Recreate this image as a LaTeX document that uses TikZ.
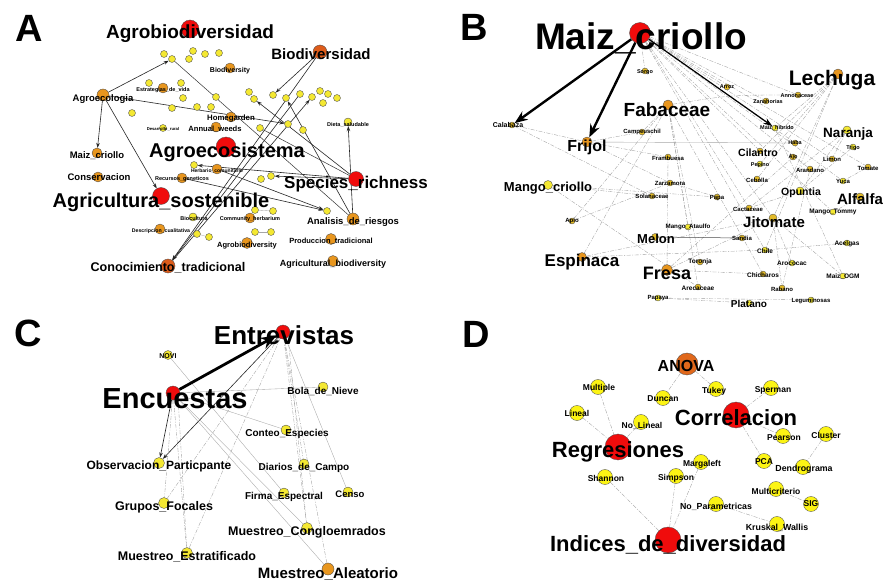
\documentclass[tikz,border=0pt]{standalone}
\usepackage{fontspec}
\setmainfont{Liberation Sans}
\usetikzlibrary{arrows.meta}
\pgfdeclarelayer{edges}
\pgfsetlayers{edges,main}
\definecolor{cR}{RGB}{240,12,12}
\definecolor{cO}{RGB}{232,150,30}
\definecolor{cDO}{RGB}{222,92,26}
\definecolor{cY}{RGB}{244,232,50}
\definecolor{cYD}{RGB}{252,244,20}
\definecolor{cG}{RGB}{226,186,40}
\begin{document}
\begin{tikzpicture}[x=1pt,y=-1pt,
 lab/.style={font=\fontsize{#1}{#1}\selectfont\bfseries, inner sep=0pt, anchor=center},
 dot/.style={circle, draw=black!70, line width=0.35pt, inner sep=0pt, minimum size=#1},
 rd/.style={dot=#1, fill=cR},
 od/.style={dot=#1, fill=cO},
 dod/.style={dot=#1, fill=cDO},
 yd/.style={dot=#1, fill=cY},
 ydd/.style={dot=#1, fill=cYD},
 gd/.style={dot=#1, fill=cG},
 arr/.style={-{Stealth[length=5pt,width=3.5pt]}, line width=0.6pt, black!85},
 ln/.style={line width=0.5pt, black!80},
 bigarr/.style={-{Stealth[length=13pt,width=10pt]}, line width=2.4pt, black},
 dsh/.style={gray!75, line width=0.35pt, dash pattern=on 4pt off 1.5pt on 1pt off 1.5pt},
 thin/.style={gray!70, line width=0.35pt},
 panel/.style={font=\fontsize{38}{38}\selectfont\bfseries, inner sep=0pt}
]
\useasboundingbox (0,0) rectangle (886,580);
\begin{pgfonlayer}{edges}
\fill[white] (0,0) rectangle (886,580);
\end{pgfonlayer}

% ---------- panel letters ----------
\node[panel] (pA) at (29,28) {A};
\node[panel] (pB) at (474,27) {B};
\node[panel] (pC) at (28,333) {C};
\node[panel] (pD) at (476,334) {D};

% ================= PANEL A =================
\node[rd=18] (agrobio) at (190,29) {};
\node[dod=14] (biodiv) at (320,52) {};
\node[yd=7] (s1) at (164,54) {};
\node[yd=7] (s2) at (172,59) {};
\node[yd=7] (s3) at (193,51) {};
\node[yd=7] (s4) at (205,54) {};
\node[yd=7] (s5) at (219,53) {};
\node[yd=7] (s6) at (189,59) {};
\node[od=10] (biodvy) at (230,68) {};
\node[od=10] (estr) at (163,88) {};
\node[yd=7] (s7) at (149,83) {};
\node[yd=7] (s8) at (181,83) {};
\node[od=12] (agroeco) at (103,95) {};
\node[yd=7] (s9) at (183,98) {};
\node[yd=7] (s10) at (216,97) {};
\node[yd=7] (s11) at (172,108) {};
\node[yd=7] (s12) at (197,107) {};
\node[yd=7] (s13) at (211,107) {};
\node[yd=7] (s14) at (132,113) {};
\node[yd=7] (s15) at (163,128) {};
\node[od=10] (homeg) at (231,117) {};
\node[od=10] (annual) at (216,127) {};
\node[yd=7] (k1) at (249,92) {};
\node[yd=7] (k2) at (254,99) {};
\node[yd=7] (k3) at (273,95) {};
\node[yd=7] (k4) at (286,98) {};
\node[yd=7] (k5) at (300,94) {};
\node[yd=7] (k6) at (312,97) {};
\node[yd=7] (k7) at (320,91) {};
\node[yd=7] (k8) at (328,94) {};
\node[yd=7] (k9) at (323,103) {};
\node[yd=7] (k10) at (337,98) {};
\node[yd=7] (t1) at (260,128) {};
\node[yd=7] (t2) at (288,124) {};
\node[yd=7] (t3) at (303,130) {};
\node[yd=8] (dieta) at (348,122) {};
\node[od=10] (maizc) at (97,153) {};
\node[od=10] (conserv) at (98,177) {};
\node[rd=20] (agroecosis) at (226,147) {};
\node[yd=7] (herb1) at (194,165) {};
\node[od=10] (herb2) at (217,169) {};
\node[od=10] (recursos) at (182,178) {};
\node[yd=7] (s16) at (261,179) {};
\node[yd=7] (s17) at (271,176) {};
\node[rd=15] (species) at (356,179) {};
\node[rd=17] (agrisost) at (161,196) {};
\node[yd=7] (s18) at (255,210) {};
\node[yd=7] (s19) at (273,211) {};
\node[yd=7] (s20) at (327,211) {};
\node[od=12] (analisis) at (353,219) {};
\node[yd=8] (biocult) at (193,217) {};
\node[od=10] (commun) at (250,218) {};
\node[od=10] (descr) at (160,229) {};
\node[yd=7] (s21) at (197,234) {};
\node[yd=7] (s22) at (209,237) {};
\node[yd=7] (s23) at (255,232) {};
\node[yd=7] (s24) at (271,232) {};
\node[od=11] (agrobioy) at (247,243) {};
\node[od=11] (prod) at (331,239) {};
\node[od=11] (agricult) at (333,261) {};
\node[dod=14] (conoc) at (168,266) {};

\begin{pgfonlayer}{edges}
\draw[arr] (agroeco) -- (s2);
\draw[arr] (agroeco) -- (t2);
\draw[arr] (agroeco) -- (maizc);
\draw[arr] (agroeco) -- (agrisost);
\draw[arr] (biodiv) -- (k3);
\draw[arr] (biodiv) -- (conoc);
\draw[arr] (k5) -- (conoc);
\draw[ln] (s2) -- (analisis);
\draw[ln] (t1) -- (species);
\draw[arr] (species) -- (k2);
\draw[arr] (analisis) -- (k4);
\draw[arr] (species) -- (herb1);
\draw[arr] (species) -- (s17);
\draw[arr] (herb2) -- (s20);
\draw[arr] (recursos) -- (s20);
\draw[arr] (analisis) -- (dieta);
\draw[arr] (conoc) -- (k6);
\draw[thin] (s18) -- (s19);
\draw[thin] (s23) -- (s24);
\draw[thin] (s21) -- (s22);
\end{pgfonlayer}

\node[lab=19] (tagrobio) at (190,34) {Agrobiodiversidad};
\node[lab=15] (tbiodiv) at (321,54) {Biodiversidad};
\node[lab=7] (tbiodvy) at (230,71) {Biodiversity};
\node[lab=5.5] (testr) at (163,90) {Estrategias\_de\_vida};
\node[lab=9.5] (tagroeco) at (103,99) {Agroecologia};
\node[lab=4.2] (ts15) at (163,129) {Desarrollo\_rural};
\node[lab=7.8] (thomeg) at (231,119) {Homegarden};
\node[lab=7.6] (tannual) at (215,129) {Annual\_weeds};
\node[lab=5.5] (tdieta) at (348,125) {Dieta\_saludable};
\node[lab=9.5] (tmaizc) at (97,156) {Maiz\_criollo};
\node[lab=9.5] (tconserv) at (99,177) {Conservacion};
\node[lab=20] (tagroecosis) at (227,152) {Agroecosistema};
\node[lab=5] (therb) at (217,171) {Herbario\_comunitario};
\node[lab=5.5] (trecursos) at (182,179) {Recursos\_geneticos};
\node[lab=17] (tspecies) at (356,184) {Species\_richness};
\node[lab=20] (tagrisost) at (161,202) {Agricultura\_sostenible};
\node[lab=5.5] (tbiocult) at (194,219) {Biocultura};
\node[lab=5.5] (tcommun) at (250,219) {Community\_herbarium};
\node[lab=5.2] (tdescr) at (161,231) {Descripcion\_cualitativa};
\node[lab=9.5] (tanalisis) at (353,222) {Analisis\_de\_riesgos};
\node[lab=7.5] (tagrobioy) at (247,246) {Agrobiodiversity};
\node[lab=7.5] (tprod) at (331,241) {Produccion\_tradicional};
\node[lab=9] (tagricult) at (333,264) {Agricultural\_biodiversity};
\node[lab=12.6] (tconoc) at (168,268) {Conocimiento\_tradicional};

% ================= PANEL B =================
\node[rd=21] (maiz) at (640,33) {};
\node[gd=6] (calabaza) at (512,125) {};
\node[od=10] (frijol) at (587,142) {};
\node[od=10] (fabaceae) at (668,105) {};
\node[od=10] (lechuga) at (838,74) {};
\node[gd=6] (sorgo) at (645,71) {};
\node[gd=6] (arroz) at (727,87) {};
\node[gd=6] (annon) at (798,95) {};
\node[gd=6] (zanah) at (766,101) {};
\node[gd=6] (campe) at (642,132) {};
\node[yd=6] (mhib) at (775,128) {};
\node[yd=8] (naranja) at (847,130) {};
\node[gd=6] (haba) at (795,143) {};
\node[yd=6] (trigo) at (853,147) {};
\node[gd=6] (cilantro) at (760,151) {};
\node[gd=6] (ajo) at (793,157) {};
\node[gd=6] (limon) at (832,159) {};
\node[gd=6] (tomate) at (868,167) {};
\node[gd=6] (framb) at (668,157) {};
\node[yd=6] (pepino) at (760,164) {};
\node[gd=6] (arand) at (810,169) {};
\node[gd=6] (cebolla) at (757,179) {};
\node[yd=6] (yuca) at (843,181) {};
\node[yd=9] (mcriollo) at (548,185) {};
\node[gd=6] (zarz) at (670,183) {};
\node[gd=6] (solan) at (652,196) {};
\node[gd=6] (papa) at (717,197) {};
\node[yd=8] (opuntia) at (800,191) {};
\node[gd=8] (alfalfa) at (860,197) {};
\node[gd=6] (cact) at (749,208) {};
\node[gd=8] (jitomate) at (773,218) {};
\node[yd=6] (mtommy) at (833,212) {};
\node[gd=6] (apio) at (572,221) {};
\node[yd=6] (mataulfo) at (688,227) {};
\node[gd=7] (melon) at (655,237) {};
\node[gd=6] (sandia) at (742,238) {};
\node[yd=6] (acelgas) at (847,243) {};
\node[yd=6] (chile) at (765,250) {};
\node[od=9] (espinaca) at (582,257) {};
\node[gd=6] (toronja) at (700,262) {};
\node[yd=6] (aracac) at (792,263) {};
\node[od=11] (fresa) at (667,270) {};
\node[gd=6] (chich) at (763,274) {};
\node[yd=6] (mogm) at (843,276) {};
\node[gd=6] (arecac) at (698,287) {};
\node[gd=6] (rabano) at (782,288) {};
\node[yd=6] (papaya) at (658,298) {};
\node[yd=6] (platano) at (749,303) {};
\node[yd=6] (legum) at (811,300) {};

\begin{pgfonlayer}{edges}
\foreach \t in {sorgo,arroz,zanah,annon,haba,limon,tomate,yuca,cact,chile,jitomate,arand,mtommy,cilantro}
  \draw[dsh] (maiz) -- (\t);
\draw[dsh] (calabaza) -- (frijol);
\draw[dsh] (calabaza) -- (solan);
\draw[dsh] (fabaceae) -- (campe);
\draw[dsh] (fabaceae) .. controls (730,95) .. (annon);
\draw[dsh] (fabaceae) -- (toronja);
\draw[dsh] (fabaceae) -- (mataulfo);
\draw[dsh] (fabaceae) -- (arecac);
\draw[dsh] (fabaceae) -- (chich);
\draw[dsh] (frijol) -- (framb);
\draw[dsh] (frijol) -- (zarz);
\draw[dsh] (frijol) -- (campe);
\draw[thin] (frijol) -- (haba);
\draw[dsh] (lechuga) -- (cilantro);
\draw[dsh] (lechuga) -- (jitomate);
\draw[dsh] (lechuga) -- (chile);
\draw[dsh] (lechuga) -- (cebolla);
\draw[dsh] (lechuga) -- (pepino);
\draw[dsh] (lechuga) -- (mhib);
\draw[dsh] (naranja) -- (opuntia);
\draw[dsh] (naranja) -- (limon);
\draw[dsh] (naranja) -- (cact);
\draw[dsh] (mcriollo) -- (solan);
\draw[dsh] (mcriollo) -- (papa);
\draw[dsh] (mcriollo) -- (arecac);
\draw[dsh] (apio) -- (zarz);
\draw[dsh] (apio) -- (fabaceae);
\draw[dsh] (espinaca) -- (fabaceae);
\draw[dsh] (espinaca) -- (jitomate);
\draw[dsh] (espinaca) -- (chile);
\draw[dsh] (fresa) -- (jitomate);
\draw[dsh] (fresa) -- (chich);
\draw[dsh] (fresa) -- (framb);
\draw[dsh] (fresa) -- (ajo);
\draw[ln, black!70] (melon) -- (sandia);
\draw[dsh] (papaya) -- (legum);
\draw[dsh] (papaya) -- (platano);
\draw[dsh] (jitomate) -- (rabano);
\draw[dsh] (jitomate) -- (mogm);
\draw[dsh] (jitomate) -- (aracac);
\draw[dsh] (alfalfa) -- (mtommy);
\draw[dsh] (opuntia) -- (cact);
\draw[dsh] (acelgas) -- (chile);
\draw[dsh] (mhib) -- (mogm);
\draw[dsh] (tomate) -- (yuca);
\draw[dsh] (arand) -- (rabano);
\draw[dsh] (zarz) -- (papa);
\draw[dsh] (trigo) -- (opuntia);
\draw[bigarr] (maiz) -- (calabaza);
\draw[bigarr] (maiz) -- (frijol);
\draw[-{Stealth[length=9pt,width=6pt]}, line width=1.2pt, black] (maiz) -- (mhib);
\end{pgfonlayer}

\node[lab=37] (tmaiz) at (641,38) {Maiz\_criollo};
\node[lab=7] (tcalabaza) at (508,125) {Calabaza};
\node[lab=16] (tfrijol) at (587,147) {Frijol};
\node[lab=19] (tfabaceae) at (667,110) {Fabaceae};
\node[lab=21] (tlechuga) at (832,80) {Lechuga};
\node[lab=5.5] (tsorgo) at (645,72) {Sorgo};
\node[lab=5.5] (tarroz) at (727,87) {Arroz};
\node[lab=5.5] (tannon) at (797,96) {Annonaceae};
\node[lab=5.5] (tzanah) at (768,102) {Zanahorias};
\node[lab=6] (tcampe) at (642,132) {Campeuschil};
\node[lab=5.5] (tmhib) at (777,128) {Maiz\_hibrido};
\node[lab=13.5] (tnaranja) at (848,134) {Naranja};
\node[lab=5.5] (thaba) at (795,143) {Haba};
\node[lab=5.5] (ttrigo) at (853,148) {Trigo};
\node[lab=10.5] (tcilantro) at (758,153) {Cilantro};
\node[lab=5.5] (tajo) at (793,157) {Ajo};
\node[lab=6] (tlimon) at (832,159) {Limon};
\node[lab=6] (ttomate) at (868,168) {Tomate};
\node[lab=6] (tframb) at (668,158) {Frambuesa};
\node[lab=5.5] (tpepino) at (760,165) {Pepino};
\node[lab=6] (tarand) at (810,170) {Arandano};
\node[lab=6] (tcebolla) at (757,180) {Cebolla};
\node[lab=6] (tyuca) at (843,181) {Yuca};
\node[lab=13] (tmcriollo) at (548,188) {Mango\_criollo};
\node[lab=6] (tzarz) at (670,183) {Zarzamora};
\node[lab=6] (tsolan) at (652,196) {Solanaceae};
\node[lab=6] (tpapa) at (717,198) {Papa};
\node[lab=10.5] (topuntia) at (801,193) {Opuntia};
\node[lab=15] (talfalfa) at (860,199) {Alfalfa};
\node[lab=6] (tcact) at (748,209) {Cactaceae};
\node[lab=15] (tjitomate) at (774,222) {Jitomate};
\node[lab=6.5] (tmtommy) at (833,212) {Mango\_Tommy};
\node[lab=6] (tapio) at (572,221) {Apio};
\node[lab=6.2] (tmataulfo) at (688,227) {Mango\_Ataulfo};
\node[lab=13] (tmelon) at (656,239) {Melon};
\node[lab=6] (tsandia) at (742,238) {Sandia};
\node[lab=6.5] (tacelgas) at (847,244) {Acelgas};
\node[lab=6.5] (tchile) at (765,251) {Chile};
\node[lab=17] (tespinaca) at (582,262) {Espinaca};
\node[lab=6.5] (ttoronja) at (700,262) {Toronja};
\node[lab=6.5] (taracac) at (792,263) {Arococac};
\node[lab=18] (tfresa) at (667,273) {Fresa};
\node[lab=6.5] (tchich) at (763,275) {Chicharos};
\node[lab=6.5] (tmogm) at (843,277) {Maiz\_OGM};
\node[lab=6.5] (tarecac) at (698,288) {Arecaceae};
\node[lab=6] (trabano) at (782,289) {Rabano};
\node[lab=6] (tpapaya) at (658,298) {Papaya};
\node[lab=10] (tplatano) at (749,304) {Platano};
\node[lab=6] (tlegum) at (811,301) {Leguminosas};

% ================= PANEL C =================
\node[rd=14] (entrev) at (283,332) {};
\node[rd=14] (encu) at (173,393) {};
\node[yd=9] (novi) at (168,355) {};
\node[yd=10] (bola) at (323,387) {};
\node[yd=10] (conteo) at (286,430) {};
\node[yd=11] (obs) at (159,463) {};
\node[yd=10] (diarios) at (304,464) {};
\node[yd=10] (firma) at (284,493) {};
\node[yd=10] (censo) at (348,492) {};
\node[yd=11] (grupos) at (164,503) {};
\node[yd=11] (cong) at (307,528) {};
\node[yd=11] (estrat) at (187,553) {};
\node[od=12] (aleat) at (328,569) {};

\begin{pgfonlayer}{edges}
\draw[dsh] (encu) -- (grupos);
\draw[dsh] (encu) -- (estrat);
\draw[dsh] (encu.south east) -- (estrat);
\draw[thin] (encu) -- (aleat);
\draw[thin] (encu) -- (cong);
\draw[thin] (encu) -- (conteo);
\draw[thin] (encu) -- (bola);
\draw[dsh] (entrev) -- (grupos);
\draw[dsh] (entrev) -- (estrat);
\draw[dsh] (entrev) -- (diarios);
\draw[dsh] (entrev) -- (cong);
\draw[dsh] (entrev.south east) -- (cong);
\draw[dsh] (entrev) -- (aleat);
\draw[thin] (entrev) -- (censo);
\draw[thin] (novi) -- (firma);
\draw[-{Stealth[length=16pt,width=12pt]}, line width=2.8pt, black] (encu) -- (entrev);
\draw[arr] (encu) -- (obs);
\draw[arr] (entrev) -- (obs);
\end{pgfonlayer}

\node[lab=26] (tentrev) at (284,335) {Entrevistas};
\node[lab=7] (tnovi) at (168,356) {NOVI};
\node[lab=29] (tencu) at (175,399) {Encuestas};
\node[lab=10] (tbola) at (323,391) {Bola\_de\_Nieve};
\node[lab=10] (tconteo) at (287,434) {Conteo\_Especies};
\node[lab=12] (tobs) at (159,466) {Observacion\_Particpante};
\node[lab=10] (tdiarios) at (304,468) {Diarios\_de\_Campo};
\node[lab=10] (tfirma) at (284,497) {Firma\_Espectral};
\node[lab=9.5] (tcenso) at (350,494) {Censo};
\node[lab=12.5] (tgrupos) at (164,507) {Grupos\_Focales};
\node[lab=12.5] (tcong) at (307,532) {Muestreo\_Congloemrados};
\node[lab=12.5] (testrat) at (187,557) {Muestreo\_Estratificado};
\node[lab=15] (taleat) at (328,574) {Muestreo\_Aleatorio};

% ================= PANEL D =================
\node[od=22, fill=cDO!80!cO] (anova) at (687,364) {};
\node[ydd=15] (multiple) at (598,387) {};
\node[ydd=15] (duncan) at (663,398) {};
\node[ydd=15] (tukey) at (716,389) {};
\node[ydd=15] (sperman) at (771,388) {};
\node[ydd=15] (lineal) at (577,413) {};
\node[ydd=15] (nolineal) at (641,422) {};
\node[rd=26] (correl) at (736,415) {};
\node[ydd=15] (pearson) at (783,436) {};
\node[ydd=15] (cluster) at (826,434) {};
\node[rd=26] (regres) at (618,447) {};
\node[ydd=15] (pca) at (764,461) {};
\node[ydd=15] (margaleft) at (701,462) {};
\node[ydd=15] (dendro) at (803,467) {};
\node[ydd=15] (shannon) at (605,477) {};
\node[ydd=15] (simpson) at (676,476) {};
\node[ydd=15] (multicrit) at (776,489) {};
\node[ydd=15] (sig) at (811,504) {};
\node[ydd=15] (noparam) at (716,504) {};
\node[ydd=15] (kruskal) at (777,524) {};
\node[rd=26] (indices) at (668,540) {};

\begin{pgfonlayer}{edges}
\draw[dsh] (anova) -- (duncan);
\draw[dsh] (anova) -- (tukey);
\draw[dsh] (multiple) -- (regres);
\draw[dsh] (lineal) -- (regres);
\draw[dsh] (nolineal) -- (regres);
\draw[dsh] (correl) -- (sperman);
\draw[dsh] (correl) -- (pearson);
\draw[dsh] (correl) -- (pca);
\draw[dsh] (cluster) -- (dendro);
\draw[dsh] (multicrit) -- (sig);
\draw[dsh] (noparam) -- (kruskal);
\draw[dsh] (shannon) -- (indices);
\draw[dsh] (simpson) -- (indices);
\draw[dsh] (margaleft) -- (indices);
\end{pgfonlayer}

\node[lab=16] (tanova) at (686,366) {ANOVA};
\node[lab=8.5] (tmultiple) at (599,388) {Multiple};
\node[lab=8.5] (tduncan) at (663,399) {Duncan};
\node[lab=8.5] (ttukey) at (714,391) {Tukey};
\node[lab=8.5] (tsperman) at (773,390) {Sperman};
\node[lab=8.5] (tlineal) at (577,413) {Lineal};
\node[lab=8.5] (tnolineal) at (642,426) {No\_Lineal};
\node[lab=22] (tcorrel) at (736,418) {Correlacion};
\node[lab=8.5] (tpearson) at (784,438) {Pearson};
\node[lab=8.5] (tcluster) at (826,435) {Cluster};
\node[lab=22] (tregres) at (618,452) {Regresiones};
\node[lab=8.5] (tpca) at (764,462) {PCA};
\node[lab=8.5] (tmargaleft) at (702,464) {Margaleft};
\node[lab=8.8] (tdendro) at (804,469) {Dendrograma};
\node[lab=8.5] (tshannon) at (606,478) {Shannon};
\node[lab=8.5] (tsimpson) at (676,478) {Simpson};
\node[lab=8.5] (tmulticrit) at (776,491) {Multicriterio};
\node[lab=8.5] (tsig) at (811,504) {SIG};
\node[lab=8.8] (tnoparam) at (716,507) {No\_Parametricas};
\node[lab=8.8] (tkruskal) at (777,528) {Kruskal\_Wallis};
\node[lab=22] (tindices) at (668,545) {Indices\_de\_diversidad};
\end{tikzpicture}
\end{document}
